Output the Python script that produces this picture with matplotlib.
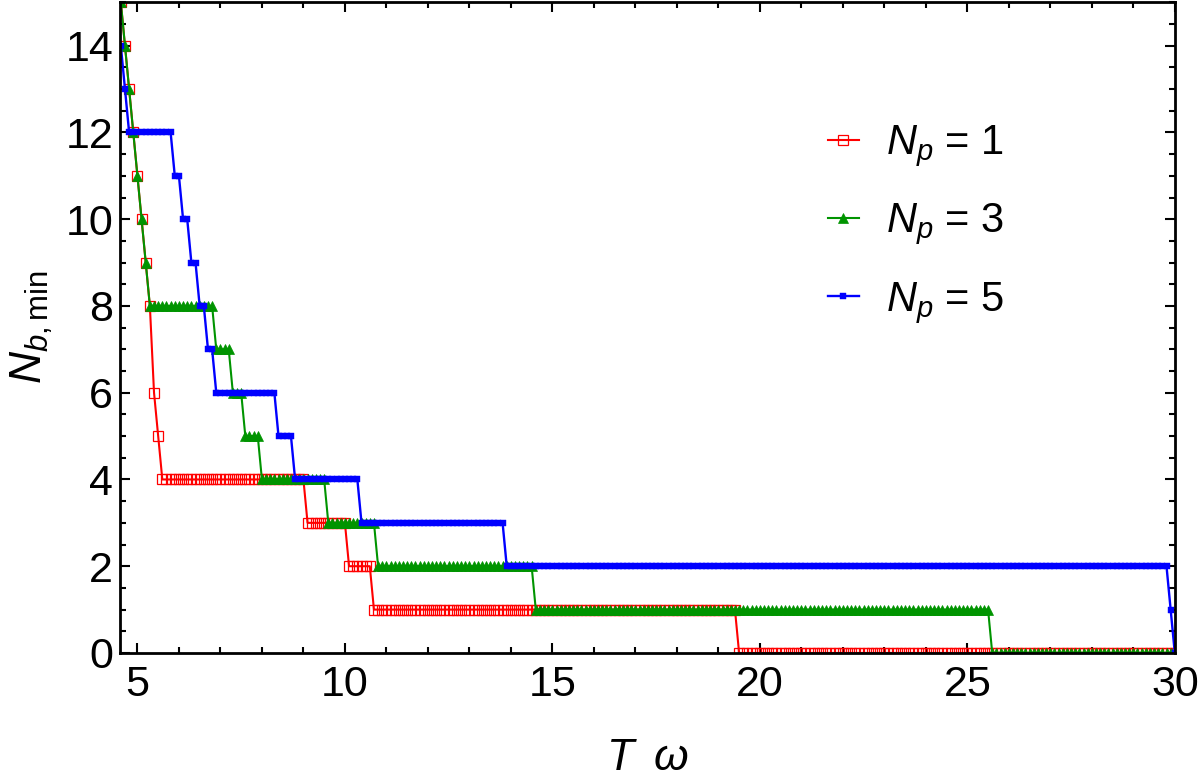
import numpy as np
import matplotlib
matplotlib.use("Agg")
import matplotlib.pyplot as plt
from matplotlib.ticker import MultipleLocator

plt.rcParams['font.family'] = ['Liberation Sans', 'DejaVu Sans']
plt.rcParams['mathtext.fontset'] = 'custom'
plt.rcParams['mathtext.rm'] = 'Liberation Sans'
plt.rcParams['mathtext.it'] = 'Liberation Sans:italic'

# T*omega is sampled every 0.1 from 4.6 to 30
T_FIRST = 4.6
T_LAST = 30.0
T_STEP = 0.1

# N_b,min as steps: value starts at the given T*omega and holds until the next one
red_start = [4.6, 4.7, 4.8, 4.9, 5.0, 5.1, 5.2, 5.3, 5.4, 5.5, 5.6, 9.1, 10.1, 10.7, 19.5]
red_vals  = [15, 14, 13, 12, 11, 10, 9, 8, 6, 5, 4, 3, 2, 1, 0]

green_start = [4.6, 4.7, 4.8, 4.9, 5.0, 5.1, 5.2, 5.3, 6.9, 7.3, 7.6, 8.0, 9.6, 10.8, 14.6, 25.6]
green_vals  = [15, 14, 13, 12, 11, 10, 9, 8, 7, 6, 5, 4, 3, 2, 1, 0]

blue_start = [4.6, 4.7, 4.8, 5.9, 6.1, 6.3, 6.5, 6.7, 6.9, 8.4, 8.8, 10.4, 13.9, 29.9, 30.0]
blue_vals  = [14, 13, 12, 11, 10, 9, 8, 7, 6, 5, 4, 3, 2, 1, 0]

labels = [r'$N_p$ = 1', r'$N_p$ = 3', r'$N_p$ = 5']


def expand(starts, vals):
    n0 = int(round(T_FIRST / T_STEP))
    n1 = int(round(T_LAST / T_STEP))
    grid = np.arange(n0, n1 + 1)
    s = np.rint(np.array(starts) / T_STEP).astype(int)
    idx = np.searchsorted(s, grid, side='right') - 1
    return grid * T_STEP, np.array(vals)[idx]


fig = plt.figure(figsize=(12, 7.82), dpi=100)
ax = fig.add_axes([0.1, 0.165, 0.879, 0.832])

x, y = expand(red_start, red_vals)
ax.plot(x, y, color='#ff0000', lw=1.5, marker='s', ms=7.2, mfc='none',
        mec='#ff0000', mew=0.9, label=labels[0])
x, y = expand(green_start, green_vals)
ax.plot(x, y, color='#009400', lw=1.5, marker='^', ms=6.8, mfc='#009400',
        mec='#009400', mew=0.5, label=labels[1])
x, y = expand(blue_start, blue_vals)
ax.plot(x, y, color='#0000ff', lw=1.7, marker='s', ms=4.2, mfc='#0000ff',
        mec='#0000ff', mew=0.3, label=labels[2])

ax.set_xlim(4.58, 30)
ax.set_ylim(0, 15)
ax.xaxis.set_major_locator(MultipleLocator(5))
ax.xaxis.set_minor_locator(MultipleLocator(1))
ax.yaxis.set_major_locator(MultipleLocator(2))
ax.yaxis.set_minor_locator(MultipleLocator(0.5))
ax.tick_params(which='both', direction='in', top=True, right=True,
               labelsize=31, width=1.5)
ax.tick_params(which='major', length=7)
ax.tick_params(which='minor', length=4)
ax.tick_params(axis='x', which='major', pad=9)
ax.tick_params(axis='y', which='major', pad=5)
for sp in ax.spines.values():
    sp.set_linewidth(2)

ax.set_xlabel(r'$T\;\;\omega$', fontsize=32)
ax.xaxis.set_label_coords(0.5, -0.13)
ax.set_ylabel(r'$N_{b,\mathrm{min}}$', fontsize=32)
ax.yaxis.set_label_coords(-0.062, 0.5)

ax.legend(loc='upper left', bbox_to_anchor=(0.655, 0.84), frameon=False,
          fontsize=30, handlelength=0.75, handletextpad=0.65, labelspacing=0.78,
          borderaxespad=0)

fig.savefig("out.png", dpi=100)
